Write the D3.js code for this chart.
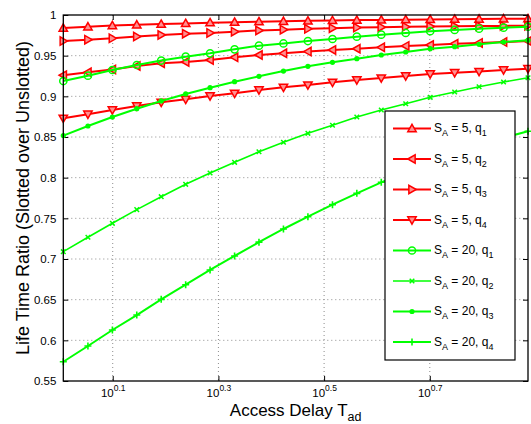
<!DOCTYPE html>
<html>
<head>
<meta charset="utf-8">
<script src="https://cdn.jsdelivr.net/npm/d3@7"></script>
<style>
  body { margin: 0; background: #fff; }
  svg { display: block; font-family: "Liberation Sans", Arial, Helvetica, sans-serif; }
</style>
</head>
<body>
<svg id="chart" width="531" height="424"></svg>
<script>
// Access delay values (log spaced in the picture)
const accessDelay = [1.015, 1.130, 1.257, 1.398, 1.555, 1.730, 1.924, 2.141, 2.381, 2.649,
                     2.947, 3.280, 3.647, 4.057, 4.513, 5.021, 5.586, 6.213, 6.912, 7.689];

// life time ratio, one array per curve
const sa5q1 = [0.984, 0.9855, 0.987, 0.988, 0.9888, 0.9897, 0.9906, 0.9912, 0.9918, 0.9923,
               0.9928, 0.9933, 0.9937, 0.994, 0.9943, 0.9946, 0.9949, 0.9951, 0.9953, 0.9955];
const sa5q2 = [0.926, 0.9295, 0.933, 0.9373, 0.9406, 0.9422, 0.9447, 0.948, 0.9508, 0.9529,
               0.955, 0.957, 0.9585, 0.9603, 0.962, 0.9632, 0.9647, 0.9657, 0.9667, 0.968];
const sa5q3 = [0.968, 0.9697, 0.9713, 0.9735, 0.9755, 0.977, 0.978, 0.9795, 0.981, 0.982,
               0.983, 0.9838, 0.9845, 0.985, 0.9855, 0.9859, 0.9862, 0.9864, 0.9866, 0.9868];
const sa5q4 = [0.873, 0.878, 0.8832, 0.8881, 0.8926, 0.8963, 0.9004, 0.9037, 0.9078, 0.9111,
               0.9139, 0.9172, 0.9201, 0.9225, 0.925, 0.9275, 0.9291, 0.9305, 0.9324, 0.934];
const sa20q1 = [0.9188, 0.9254, 0.9324, 0.9385, 0.944, 0.9488, 0.9529, 0.9578, 0.9623, 0.965,
                0.968, 0.9705, 0.9734, 0.9758, 0.9779, 0.98, 0.9816, 0.9832, 0.9844, 0.9856];
const sa20q2 = [0.709, 0.7267, 0.7439, 0.7607, 0.7766, 0.7918, 0.8057, 0.8189, 0.8319, 0.8435,
                0.8545, 0.8644, 0.8746, 0.8832, 0.8909, 0.8988, 0.9053, 0.9118, 0.9176, 0.9229];
const sa20q3 = [0.8517, 0.8635, 0.8746, 0.8848, 0.8943, 0.9029, 0.9106, 0.918, 0.9246, 0.9311,
                0.9369, 0.9418, 0.9463, 0.9508, 0.9545, 0.9586, 0.961, 0.964, 0.9668, 0.969];
const sa20q4 = [0.5737, 0.593, 0.6127, 0.6311, 0.6504, 0.6684, 0.6865, 0.7037, 0.7207, 0.7369,
                0.752, 0.7668, 0.7807, 0.7943, 0.807, 0.819, 0.830, 0.840, 0.849, 0.857];

// legend labels: [S_A value, q index]
const legendSA = ['5', '5', '5', '5', '20', '20', '20', '20'];
const legendQ = ['1', '2', '3', '4', '1', '2', '3', '4'];

// axis ticks
const xTickExponents = [0.1, 0.3, 0.5, 0.7];
const xTickLabels = ['0.1', '0.3', '0.5', '0.7'];
const yTickValues = [0.55, 0.6, 0.65, 0.7, 0.75, 0.8, 0.85, 0.9, 0.95, 1];
const yTickLabels = ['0.55', '0.6', '0.65', '0.7', '0.75', '0.8', '0.85', '0.9', '0.95', '1'];

const RED = '#ff0000';
const GREEN = '#00ff00';

const series = [
    { values: sa5q1, color: RED, marker: 'up', width: 2 },
    { values: sa5q2, color: RED, marker: 'left', width: 2 },
    { values: sa5q3, color: RED, marker: 'right', width: 2 },
    { values: sa5q4, color: RED, marker: 'down', width: 2 },
    { values: sa20q1, color: GREEN, marker: 'circle', width: 2 },
    { values: sa20q2, color: GREEN, marker: 'x', width: 1.6 },
    { values: sa20q3, color: GREEN, marker: 'dot', width: 2 },
    { values: sa20q4, color: GREEN, marker: 'plus', width: 2 }
];

const svg = d3.select('#chart');
const margin = { left: 63.3, top: 15, right: 3, bottom: 43 };
const width = 531 - margin.left - margin.right;
const height = 424 - margin.top - margin.bottom;

const x = d3.scaleLog()
    .domain([accessDelay[0], accessDelay[accessDelay.length - 1]])
    .range([0, width]);
const y = d3.scaleLinear().domain([0.55, 1]).range([height, 0]);

const g = svg.append('g').attr('transform', `translate(${margin.left},${margin.top})`);

const xTickValues = xTickExponents.map(e => Math.pow(10, e));

// Grid lines (dotted)
const grid = g.append('g').attr('class', 'grid');
grid.selectAll('line.gx')
    .data(xTickValues)
    .enter()
    .append('line')
    .attr('x1', d => x(d)).attr('x2', d => x(d))
    .attr('y1', 0).attr('y2', height)
    .attr('stroke', '#8c8c8c')
    .attr('stroke-width', 1)
    .attr('stroke-dasharray', '1,3');
grid.selectAll('line.gy')
    .data(yTickValues.slice(1, -1))
    .enter()
    .append('line')
    .attr('x1', 0).attr('x2', width)
    .attr('y1', d => y(d)).attr('y2', d => y(d))
    .attr('stroke', '#8c8c8c')
    .attr('stroke-width', 1)
    .attr('stroke-dasharray', '1,3');

// Axes with inward ticks on all four sides
const xAxis = g.append('g')
    .attr('transform', `translate(0,${height})`)
    .call(d3.axisBottom(x).tickValues(xTickValues).tickSizeInner(-5).tickSizeOuter(0));
xAxis.selectAll('text').each(function(d, i) {
    const t = d3.select(this);
    t.text(null).attr('font-size', 11.5).attr('fill', '#000').attr('dy', null).attr('y', 15.5);
    t.append('tspan').text('10');
    t.append('tspan').attr('font-size', 8.5).attr('dy', -6).text(xTickLabels[i]);
});

const yAxis = g.append('g')
    .call(d3.axisLeft(y).tickValues(yTickValues).tickFormat((d, i) => yTickLabels[i])
        .tickSizeInner(-5).tickSizeOuter(0).tickPadding(7));
yAxis.selectAll('text').attr('font-size', 11.5).attr('fill', '#000');

g.append('g')
    .call(d3.axisTop(x).tickValues(xTickValues).tickSizeInner(-5).tickSizeOuter(0).tickFormat(''));
g.append('g')
    .attr('transform', `translate(${width},0)`)
    .call(d3.axisRight(y).tickValues(yTickValues).tickSizeInner(-5).tickSizeOuter(0).tickFormat(''));

g.selectAll('.domain').remove();
g.selectAll('.tick line').attr('stroke', '#000');

// Marker drawing
function drawMarker(sel, type, color) {
    const r = 4.2;
    const tri = {
        up: [[0, -r], [r, r * 0.75], [-r, r * 0.75]],
        down: [[0, r], [r, -r * 0.75], [-r, -r * 0.75]],
        left: [[-r, 0], [r * 0.75, -r], [r * 0.75, r]],
        right: [[r, 0], [-r * 0.75, -r], [-r * 0.75, r]]
    };
    if (tri[type]) {
        sel.append('path')
            .attr('d', 'M' + tri[type].map(p => p.join(',')).join('L') + 'Z')
            .attr('fill', '#ff9090')
            .attr('stroke', color)
            .attr('stroke-width', 1.5);
    } else if (type === 'circle') {
        sel.append('circle').attr('r', 3.6)
            .attr('fill', 'none').attr('stroke', color).attr('stroke-width', 1.5);
    } else if (type === 'dot') {
        sel.append('circle').attr('r', 2.6).attr('fill', color);
    } else if (type === 'x') {
        const s = 2.3;
        sel.append('path')
            .attr('d', `M${-s},${-s}L${s},${s}M${-s},${s}L${s},${-s}`)
            .attr('stroke', color).attr('stroke-width', 1.5);
    } else if (type === 'plus') {
        const s = 3.5;
        sel.append('path')
            .attr('d', `M${-s},0L${s},0M0,${-s}L0,${s}`)
            .attr('stroke', color).attr('stroke-width', 1.6);
    }
}

const line = d3.line()
    .x((d, i) => x(accessDelay[i]))
    .y(d => y(d));

const plot = g.append('g');
series.forEach(s => {
    plot.append('path')
        .attr('d', line(s.values))
        .attr('fill', 'none')
        .attr('stroke', s.color)
        .attr('stroke-width', s.width);
    plot.append('g').selectAll('g')
        .data(s.values)
        .enter()
        .append('g')
        .attr('transform', (d, i) => `translate(${x(accessDelay[i])},${y(d)})`)
        .each(function() { drawMarker(d3.select(this), s.marker, s.color); });
});

// Frame
g.append('rect')
    .attr('width', width).attr('height', height)
    .attr('fill', 'none').attr('stroke', '#000').attr('stroke-width', 1.3);

// Legend
const legend = svg.append('g');
legend.append('rect')
    .attr('x', 385).attr('y', 111).attr('width', 130).attr('height', 249)
    .attr('fill', '#fff').attr('stroke', '#000').attr('stroke-width', 1.2);

series.forEach((s, i) => {
    const ly = 128.5 + 30.5 * i;
    const row = legend.append('g');
    row.append('line')
        .attr('x1', 393).attr('x2', 431).attr('y1', ly).attr('y2', ly)
        .attr('stroke', s.color).attr('stroke-width', s.width);
    drawMarker(row.append('g').attr('transform', `translate(412,${ly})`), s.marker, s.color);
    const t = row.append('text')
        .attr('x', 434).attr('y', ly + 3.5)
        .attr('font-size', 12).attr('fill', '#000');
    t.append('tspan').text('S');
    t.append('tspan').attr('font-size', 9).attr('dy', 4).text('A');
    t.append('tspan').attr('dy', -4).text(` = ${legendSA[i]}, q`);
    t.append('tspan').attr('font-size', 9).attr('dy', 4).text(legendQ[i]);
});

// Axis titles
const xt = svg.append('text')
    .attr('x', margin.left + width / 2).attr('y', 416)
    .attr('text-anchor', 'middle')
    .attr('font-size', 17).attr('fill', '#000');
xt.append('tspan').text('Access Delay T');
xt.append('tspan').attr('font-size', 12.5).attr('dy', 5).text('ad');

svg.append('text')
    .attr('transform', `translate(29,${margin.top + height / 2}) rotate(-90)`)
    .attr('text-anchor', 'middle')
    .attr('font-size', 18).attr('fill', '#000')
    .text('Life Time Ratio (Slotted over Unslotted)');
</script>
</body>
</html>
